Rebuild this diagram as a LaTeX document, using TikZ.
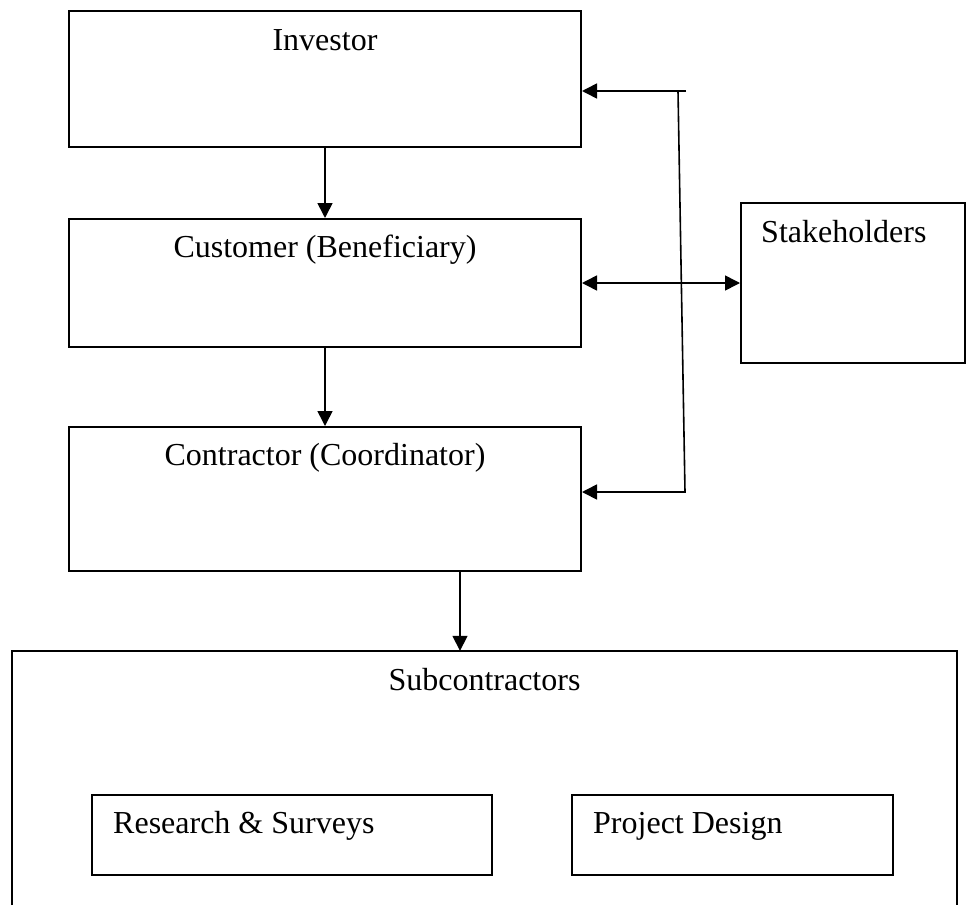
\documentclass[tikz,border=0pt]{standalone}
\usepackage{fontspec}
\setmainfont{Liberation Serif}
\usetikzlibrary{arrows.meta}
\tikzset{
  boxline/.style={draw=black, line width=2pt},
  frame/.style={rectangle, boxline, inner sep=0pt},
  hidden/.style={rectangle, inner sep=0pt},
  txt/.style={inner sep=0pt, font=\fontsize{32pt}{38pt}\selectfont},
  arr/.style={line width=1.6pt, -{Triangle[length=15pt,width=15pt]}},
  arrtwo/.style={line width=1.6pt, {Triangle[length=15pt,width=15pt]}-{Triangle[length=15pt,width=15pt]}}
}
\begin{document}
\begin{tikzpicture}[x=1pt,y=-1pt]
\useasboundingbox (0,0) rectangle (966,905);
% main boxes
\node[frame, minimum width=512pt, minimum height=136pt] (inv) at (325,79) {};
\node[txt, anchor=base] (invt) at (325,50) {Investor};
\node[frame, minimum width=512pt, minimum height=128pt] (cus) at (325,283) {};
\node[txt, anchor=base] (cust) at (325,257) {Customer (Beneficiary)};
\node[frame, minimum width=512pt, minimum height=144pt] (con) at (325,499) {};
\node[txt, anchor=base] (cont) at (325,465) {Contractor (Coordinator)};
\node[frame, minimum width=224pt, minimum height=160pt] (stk) at (853,283) {};
\node[txt, anchor=base west] (stkt) at (761,242) {Stakeholders};
% subcontractors (open at the bottom)
\node[hidden, minimum width=945pt, minimum height=254pt] (sub) at (484.5,778) {};
\draw[boxline] (sub.south west) -- (sub.north west) -- (sub.north east) -- (sub.south east);
\node[txt, anchor=base] (subt) at (484.5,690) {Subcontractors};
\node[frame, minimum width=400pt, minimum height=80pt] (res) at (292,835) {};
\node[txt, anchor=base west] (rest) at (113,833) {Research \& Surveys};
\node[frame, minimum width=321pt, minimum height=80pt] (prj) at (732.5,835) {};
\node[txt, anchor=base west] (prjt) at (593,833) {Project Design};
% connectors
\draw[arr] (inv.south) -- (cus.north);
\draw[arr] (cus.south) -- (con.north);
\draw[arr] ([xshift=135pt]con.south) -- ([xshift=135pt]con.south |- sub.north);
\draw[arrtwo] (cus.east) -- (stk.west);
\coordinate (ta) at (686,91);
\coordinate (tb) at (678,91);
\coordinate (tc) at (685,492);
\draw[arr] (ta) -- (ta -| inv.east);
\draw[arr] (tb) -- (tc) -- (tc -| con.east);
\end{tikzpicture}
\end{document}
